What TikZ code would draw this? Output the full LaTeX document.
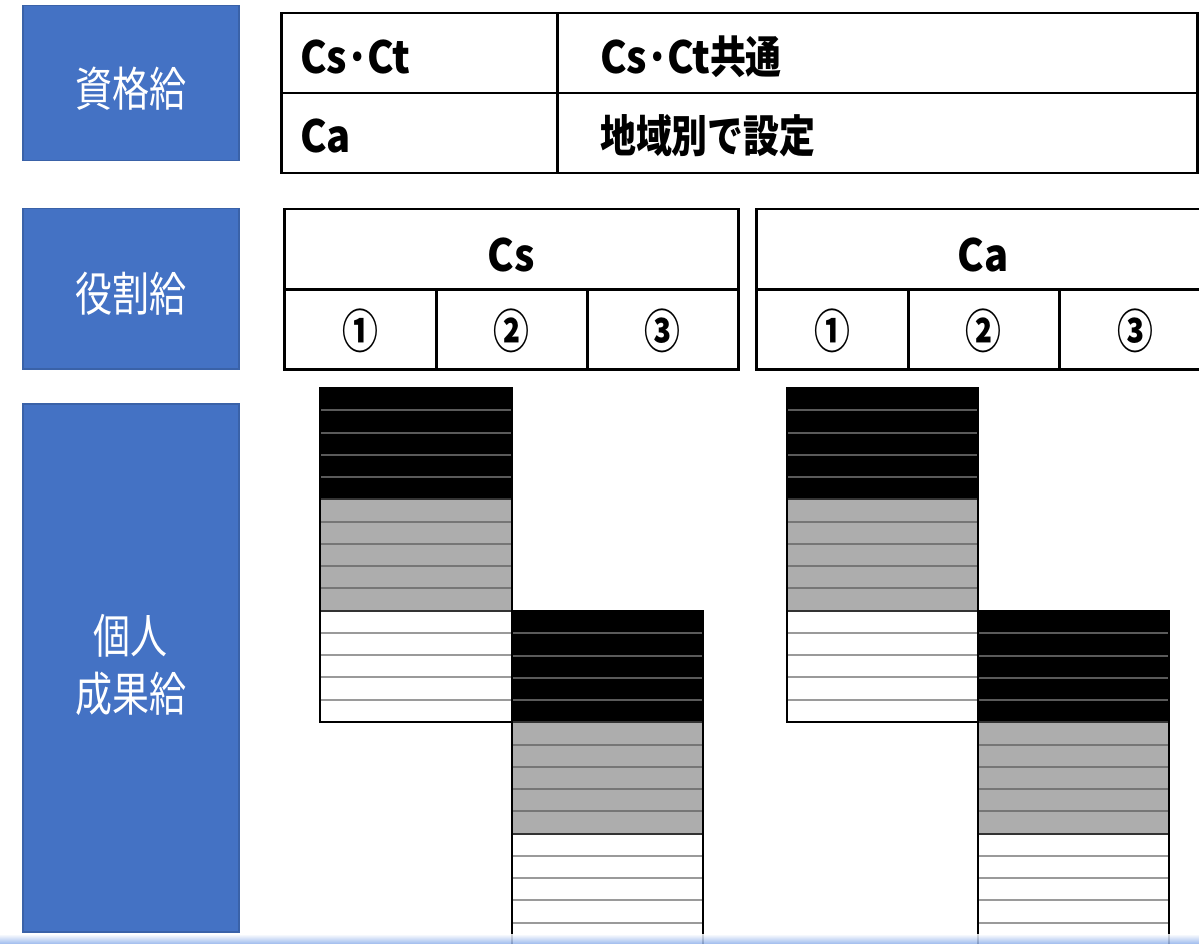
\documentclass[tikz,border=0pt]{standalone}
\usepackage{fontspec}
\usepackage{graphicx}
\newfontfamily\jp{Noto Sans CJK JP}
\definecolor{bbl}{HTML}{4472C4}
\definecolor{bbd}{HTML}{3A62A8}
\definecolor{sgray}{HTML}{ADADAD}
\definecolor{lblk}{HTML}{5A5A5A}
\definecolor{lgry}{HTML}{767676}
\definecolor{lwht}{HTML}{9A9A9A}
\definecolor{band}{HTML}{8CAFEB}
\newcommand\lat[1]{\scalebox{1.08}[1.2]{#1}}
\newcommand\cjt[1]{\scalebox{0.97}[1.2]{#1}}
\newcommand\vsb[1]{\scalebox{1}[1.27]{#1}}
\newcommand\vsn[1]{\scalebox{1.12}[1.45]{#1}}
\newcommand\dotc{\kern-2pt·\kern-2pt}
\newcommand\stackblock[3]{% x, y top, width
  \fill[black] ({#1},{#2}) rectangle ++(#3,111.3);
  \fill[sgray] ({#1},{#2+111.3}) rectangle ++(#3,111.3);
  \fill[white] ({#1},{#2+222.6}) rectangle ++(#3,111.3);
  \foreach \k in {1,...,4} {\draw[line width=2pt, lblk] ({#1+1},{#2+\k*22.26}) -- ++({#3-2},0);}
  \foreach \k in {6,...,9} {\draw[line width=2pt, lgry] ({#1+1},{#2+\k*22.26}) -- ++({#3-2},0);}
  \foreach \k in {11,...,14} {\draw[line width=2pt, lwht] ({#1+1},{#2+\k*22.26}) -- ++({#3-2},0);}
  \draw[line width=2pt, black!80] ({#1},{#2+111.3}) -- ++(#3,0);
  \draw[line width=2pt, black!80] ({#1},{#2+222.6}) -- ++(#3,0);
  \draw[line width=1.5pt, black] ({#1},{#2}) rectangle ++(#3,333.9);
}
\begin{document}
\begin{tikzpicture}[x=1pt,y=-1pt,
  bluebox/.style={draw=bbd, line width=1.5pt, fill=bbl, inner sep=0pt, anchor=north west},
  bluetxt/.style={text=white, inner sep=0pt, font=\jp\fontsize{37}{45.7}\selectfont},
  cellbox/.style={draw=black, line width=2.5pt, inner sep=0pt, anchor=north west},
  celltxt/.style={font=\jp\bfseries\fontsize{37}{44}\selectfont, inner sep=0pt},
  numtxt/.style={font=\jp\bfseries\fontsize{32}{40}\selectfont, inner sep=0pt},
]
\useasboundingbox (0,0) rectangle (1199,944);
\fill[white] (0,0) rectangle (1199,944);

% blue label boxes
\node[bluebox, minimum width=216pt, minimum height=155pt] (b1) at (22,5) {};
\node[bluebox, minimum width=216pt, minimum height=160pt] (b2) at (22,208) {};
\node[bluebox, minimum width=216pt, minimum height=528pt] (b3) at (22,403) {};
\node[bluetxt] (tb1) at ([yshift=-5pt]b1.center) {\vsb{資格給}};
\node[bluetxt] (tb2) at ([yshift=-5pt]b2.center) {\vsb{役割給}};
\node[bluetxt] (tb3) at ([yshift=-3pt]b3.center) {\vsb{\begin{tabular}{@{}c@{}}個人\\成果給\end{tabular}}};

% top table
\node[cellbox, minimum width=276pt, minimum height=80pt] (a1) at (280,12) {};
\node[cellbox, minimum width=640pt, minimum height=80pt] (a2) at (556,12) {};
\node[cellbox, minimum width=276pt, minimum height=80pt] (a3) at (280,92) {};
\node[cellbox, minimum width=640pt, minimum height=80pt] (a4) at (556,92) {};
\node[celltxt, anchor=base west] (ta1) at (300,74) {\lat{Cs\dotc Ct}};
\node[celltxt, anchor=base west] (ta2) at (600,74) {\lat{Cs\dotc Ct}\cjt{共通}};
\node[celltxt, anchor=base west] (ta3) at (300,153) {\lat{Ca}};
\node[celltxt, anchor=base west] (ta4) at (600,153) {\cjt{地域別で設定}};

% Cs table
\node[cellbox, minimum width=454pt, minimum height=80pt] (cs) at (283,208) {};
\node[celltxt, anchor=base] (tcs) at (511,271) {\lat{Cs}};
\node[cellbox, minimum width=152pt, minimum height=80pt] (cs1) at (283,288) {};
\node[cellbox, minimum width=151pt, minimum height=80pt] (cs2) at (435,288) {};
\node[cellbox, minimum width=151pt, minimum height=80pt] (cs3) at (586,288) {};
\node[numtxt] (ncs1) at ([yshift=-2pt]cs1.center) {\vsn{①}};
\node[numtxt] (ncs2) at ([yshift=-2pt]cs2.center) {\vsn{②}};
\node[numtxt] (ncs3) at ([yshift=-2pt]cs3.center) {\vsn{③}};

% Ca table
\node[cellbox, minimum width=455pt, minimum height=80pt] (ca) at (755,208) {};
\node[celltxt, anchor=base] (tca) at (983,271) {\lat{Ca}};
\node[cellbox, minimum width=152pt, minimum height=80pt] (ca1) at (755,288) {};
\node[cellbox, minimum width=151pt, minimum height=80pt] (ca2) at (907,288) {};
\node[cellbox, minimum width=152pt, minimum height=80pt] (ca3) at (1058,288) {};
\node[numtxt] (nca1) at ([yshift=-2pt]ca1.center) {\vsn{①}};
\node[numtxt] (nca2) at ([yshift=-2pt]ca2.center) {\vsn{②}};
\node[numtxt] (nca3) at ([yshift=-2pt]ca3.center) {\vsn{③}};

% striped blocks
\stackblock{320}{388}{192}
\stackblock{512}{611}{191}
\stackblock{787}{388}{191}
\stackblock{978}{611}{191}

% bottom band
\shade[top color=white, bottom color=band, opacity=0.85] (0,934) rectangle (1199,944);
\end{tikzpicture}
\end{document}
